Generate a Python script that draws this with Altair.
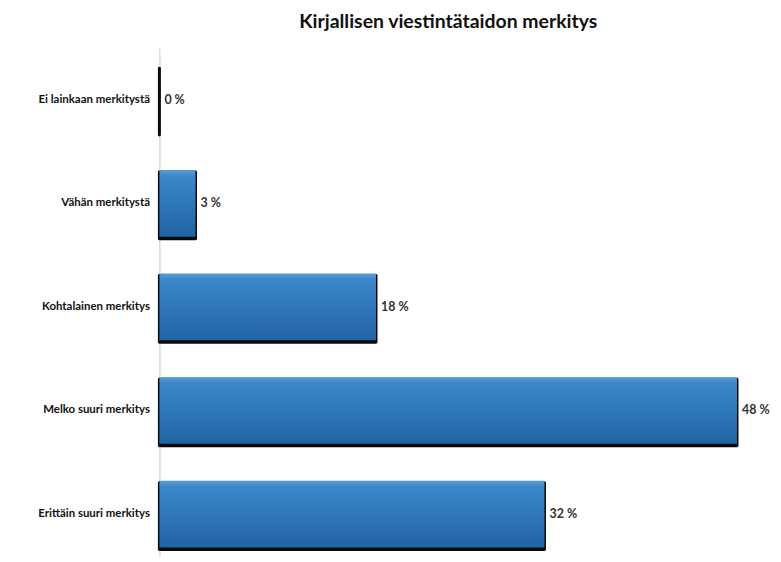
import altair as alt
import pandas as pd

categories = ["Ei lainkaan merkitystä", "Vähän merkitystä", "Kohtalainen merkitys",
              "Melko suuri merkitys", "Erittäin suuri merkitys"]
values = [0, 3, 18, 48, 32]
labels = ["0 %", "3 %", "18 %", "48 %", "32 %"]

df = pd.DataFrame({"cat": categories, "val": values, "lab": labels})

FONT = "Lato"

y_enc = alt.Y("cat:N", sort=categories, title=None,
              scale=alt.Scale(paddingInner=0.356, paddingOuter=0.178, range=[0, 520]),
              axis=alt.Axis(domainColor="#c8c8c8", domainWidth=1, ticks=False,
                            labelPadding=10, labelFont=FONT, labelFontSize=11.5,
                            labelFontWeight="bold", labelColor="#111111"))
x_scale = alt.Scale(domain=[0, 50], nice=False)

base = alt.Chart(df)

shadow = base.mark_bar(color="#0a0a0a", stroke="#0a0a0a", strokeWidth=3,
                       yOffset=2, strokeJoin="round").encode(
    x=alt.X("val:Q", scale=x_scale, axis=None),
    y=y_enc,
)

bars = base.mark_bar(
    color=alt.Gradient(
        gradient="linear", x1=0, y1=0, x2=0, y2=1,
        stops=[alt.GradientStop(offset=0, color="#5a9bd8"),
               alt.GradientStop(offset=0.1, color="#3b85c9"),
               alt.GradientStop(offset=0.5, color="#2e77bb"),
               alt.GradientStop(offset=1, color="#2263a3")]),
).encode(
    x=alt.X("val:Q", scale=x_scale, axis=None),
    y=y_enc,
)

text = base.mark_text(align="left", baseline="middle", dx=5, font=FONT,
                      fontSize=12.5, fontWeight="bold", color="#333333").encode(
    x=alt.X("val:Q", scale=x_scale, axis=None),
    y=y_enc,
    text="lab:N",
)

chart = alt.layer(shadow, bars, text).properties(
    width=604, height=510,
    autosize=alt.AutoSizeParams(type="none"),
    padding={"left": 152, "top": 39, "right": 12, "bottom": 0},
    title=alt.TitleParams("Kirjallisen viestintätaidon merkitys", font=FONT, fontSize=19.5,
                          fontWeight="bold", color="#111111", anchor="middle", offset=16,
                          dx=-12),
).configure_view(stroke=None)

chart.save("out.html", embed_options={"renderer": "svg", "actions": False})
